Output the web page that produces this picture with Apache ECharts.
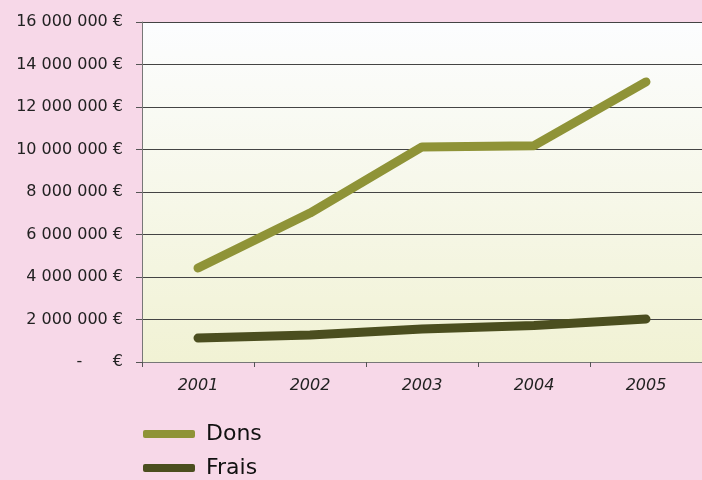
<!DOCTYPE html>
<html><head><meta charset="utf-8">
<script src="https://cdn.jsdelivr.net/npm/echarts@6/dist/echarts.min.js"></script>
<style>html,body{margin:0;padding:0;background:#f7d8e8;}#c{width:702px;height:480px;}</style>
</head><body><div id="c"></div>
<script>
var years = ['2001','2002','2003','2004','2005'];
var dons = [4420000, 7010000, 10120000, 10180000, 13180000];
var frais = [1130000, 1270000, 1550000, 1720000, 2020000];
var seriesNames = ['Dons','Frais'];

function fmt(v){
  if (v === 0) return '-' + '\u00a0\u00a0\u00a0\u00a0\u00a0\u00a0' + '€';
  var s = String(v).replace(/\B(?=(\d{3})+(?!\d))/g, ' ');
  return s + ' €';
}

var chart = echarts.init(document.getElementById('c'));
chart.setOption({
  backgroundColor: '#f7d8e8',
  animation: false,
  grid: {
    left: 142, right: 0, top: 22, bottom: 118,
    show: true, borderWidth: 0,
    backgroundColor: {type:'linear', x:0, y:0, x2:0, y2:1, colorStops:[
      {offset:0, color:'#fcfdff'}, {offset:1, color:'#f1f2d4'}]}
  },
  legend: {
    orient: 'vertical', left: 143, top: 423, itemGap: 12, padding: 0, height: 80,
    itemWidth: 52, itemHeight: 8, icon: 'roundRect',
    data: seriesNames,
    textStyle: {fontFamily: 'DejaVu Sans', fontSize: 22, color: '#111', padding: [0,0,0,6]}
  },
  xAxis: {
    type: 'category', data: years, boundaryGap: true,
    axisLine: {lineStyle: {color: '#777'}},
    axisTick: {show: true, length: 5, lineStyle: {color: '#555'}},
    axisLabel: {fontFamily: 'DejaVu Sans', fontStyle: 'italic', fontSize: 16, color: '#222', margin: 16}
  },
  yAxis: {
    type: 'value', min: 0, max: 16000000, interval: 2000000,
    axisLine: {show: true, lineStyle: {color: '#777'}},
    axisTick: {show: true, length: 6, lineStyle: {color: '#555'}},
    splitLine: {lineStyle: {color: '#444', width: 1}},
    axisLabel: {fontFamily: 'DejaVu Sans', fontSize: 16, color: '#222', margin: 19, formatter: fmt}
  },
  series: [
    {name: 'Dons', type: 'line', data: dons, symbol: 'none', color: '#8f9337',
     lineStyle: {width: 9, cap: 'round', join: 'round', color: '#8f9337'}},
    {name: 'Frais', type: 'line', data: frais, symbol: 'none', color: '#4b4e1f',
     lineStyle: {width: 9, cap: 'round', join: 'round', color: '#4b4e1f'}}
  ]
});
</script></body></html>
